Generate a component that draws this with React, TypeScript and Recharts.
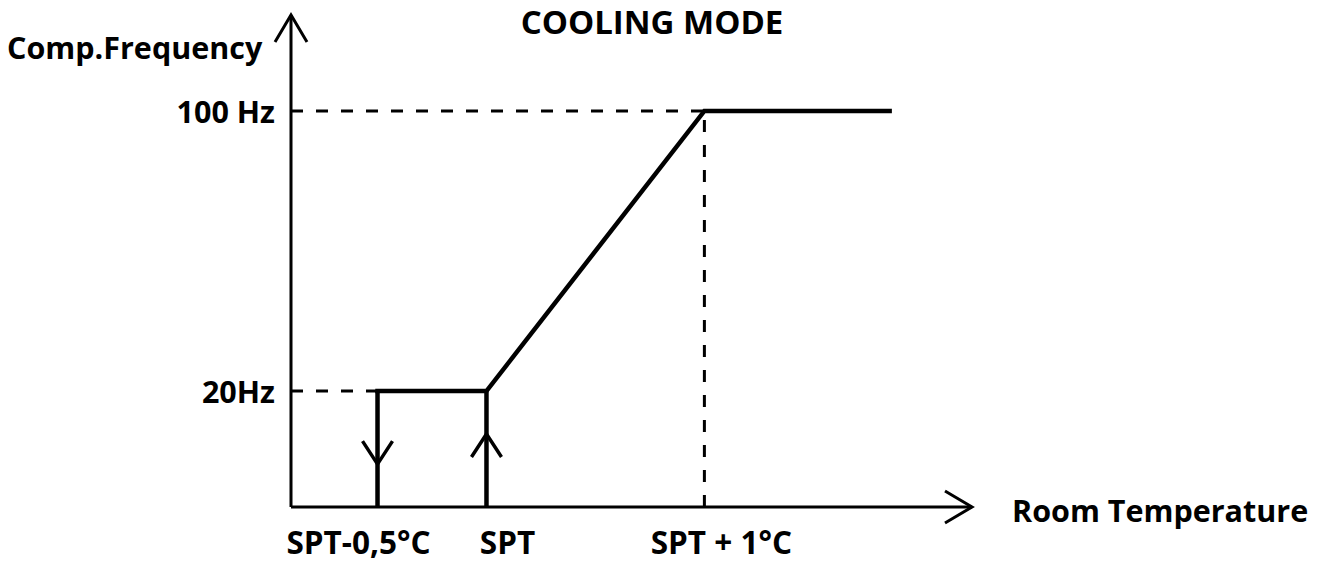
import React from 'react';
import { ComposedChart, Line, XAxis, YAxis, ReferenceLine } from 'recharts';

// room temperature, in °C relative to the set point (SPT)
const tempTicks = [-0.5, 0, 1];
const tempTickLabels = ['SPT-0,5°C', 'SPT', 'SPT + 1°C'];

// compressor frequency, Hz
const freqTicks = [20, 100];
const freqTickLabels = ['20Hz', '100 Hz'];

// running curve: minimum frequency band, ramp, then max frequency
const runTemps = [-0.5, 0, 1, 1.85];
const runFreqs = [20, 20, 100, 100];

// switch-off (falling) and switch-on (rising) legs
const offTemps = [-0.5, -0.5];
const offFreqs = [20, -13.1];
const onTemps = [0, 0];
const onFreqs = [-13.1, 20];

// schematic axis extent (axes do not start at zero)
const tempDomain = [-0.897, 2.228];
const freqDomain = [-13.1, 127.4];

const toPoints = (xs: number[], ys: number[]) => xs.map((t, i) => ({ t, f: ys[i] }));

const FONT = "'Open Sans', Lato, sans-serif";
const tickNudge: Record<string, number> = { 'SPT-0,5°C': -19, SPT: 21, 'SPT + 1°C': 17 };

const tempLabel = (v: number) => {
  const i = tempTicks.indexOf(v);
  return i >= 0 ? tempTickLabels[i] : String(v);
};
const freqLabel = (v: number) => {
  const i = freqTicks.indexOf(v);
  return i >= 0 ? freqTickLabels[i] : String(v);
};

const TempTick = (props: any) => {
  const { x, y, payload } = props;
  const label = tempLabel(Number(payload.value));
  return (
    <text x={x + (tickNudge[label] || 0)} y={y + 45} textAnchor="middle"
      fontFamily={FONT} fontWeight={700} fontSize={31.5} fill="#000">
      {label}
    </text>
  );
};

const FreqTick = (props: any) => {
  const { x, y, payload } = props;
  const label = freqLabel(Number(payload.value));
  return (
    <text x={x - 14} y={y} textAnchor="end" dominantBaseline="central"
      fontFamily={FONT} fontWeight={700} fontSize={30.5} fill="#000">
      {label}
    </text>
  );
};

const dash = { stroke: '#000', strokeWidth: 3, strokeDasharray: '12 13' };

export default function App() {
  const [tMin, tMax] = tempDomain;
  const [fMin, fMax] = freqDomain;
  return (
    <div style={{ position: 'absolute', left: 0, top: 0, width: 1320, height: 562, background: '#fff' }}>
      <ComposedChart width={1320} height={562} margin={{ top: 15, right: 348, bottom: 54, left: 290 }}>
        <defs>
          <marker id="axisArrow" markerUnits="userSpaceOnUse" markerWidth={40} markerHeight={40}
            refX={0} refY={0} orient="auto" overflow="visible">
            <path d="M-27,-16 L0,0 L-27,16" fill="none" stroke="#000" strokeWidth={3} />
          </marker>
          <marker id="flowArrow" markerUnits="userSpaceOnUse" markerWidth={80} markerHeight={40}
            refX={0} refY={0} orient="auto" overflow="visible">
            <path d="M50,-15 L73,0 L50,15" fill="none" stroke="#000" strokeWidth={3.5} />
          </marker>
        </defs>
        <XAxis dataKey="t" type="number" domain={tempDomain} ticks={tempTicks} height={1} interval={0}
          axisLine={false} tickLine={false} tickSize={0} tick={<TempTick />} allowDataOverflow />
        <YAxis dataKey="f" type="number" domain={freqDomain} ticks={freqTicks} width={1} interval={0}
          axisLine={false} tickLine={false} tickSize={0} tick={<FreqTick />} allowDataOverflow />

        <ReferenceLine segment={[{ x: tMin, y: 100 }, { x: 1, y: 100 }]} {...dash} />
        <ReferenceLine segment={[{ x: 1, y: fMin }, { x: 1, y: 100 }]} {...dash} />
        <ReferenceLine segment={[{ x: tMin, y: 20 }, { x: -0.5, y: 20 }]} {...dash} />

        <ReferenceLine segment={[{ x: tMin, y: fMin }, { x: tMin, y: fMax }]} stroke="#000" strokeWidth={3}
          markerEnd="url(#axisArrow)" />
        <ReferenceLine segment={[{ x: tMin, y: fMin }, { x: tMax, y: fMin }]} stroke="#000" strokeWidth={3}
          markerEnd="url(#axisArrow)" />

        <Line data={toPoints(offTemps, offFreqs)} dataKey="f" type="linear" stroke="#000" strokeWidth={4.5}
          dot={false} activeDot={false} isAnimationActive={false} markerStart="url(#flowArrow)" />
        <Line data={toPoints(onTemps, onFreqs)} dataKey="f" type="linear" stroke="#000" strokeWidth={4.5}
          dot={false} activeDot={false} isAnimationActive={false} markerStart="url(#flowArrow)" />
        <Line data={toPoints(runTemps, runFreqs)} dataKey="f" type="linear" stroke="#000" strokeWidth={4.5}
          strokeLinecap="square" dot={false} activeDot={false} isAnimationActive={false} />

        <text x={652} y={21} textAnchor="middle" dominantBaseline="central" fontFamily={FONT}
          fontWeight={700} fontSize={33} fill="#000">COOLING MODE</text>
        <text x={7} y={47} textAnchor="start" dominantBaseline="central" fontFamily={FONT}
          fontWeight={700} fontSize={30.5} fill="#000">Comp.Frequency</text>
        <text x={1012} y={510} textAnchor="start" dominantBaseline="central" fontFamily={FONT}
          fontWeight={700} fontSize={30.5} fill="#000">Room Temperature</text>
      </ComposedChart>
    </div>
  );
}
